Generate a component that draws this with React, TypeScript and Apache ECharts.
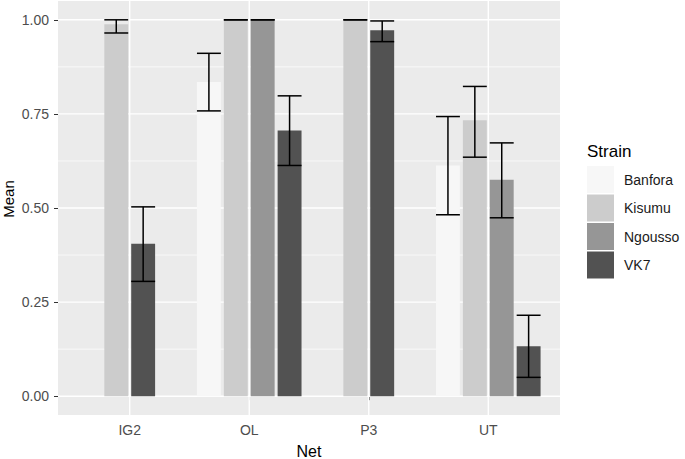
import React, { useEffect, useRef } from "react";
import * as echarts from "echarts";

const categories = ["IG2", "OL", "P3", "UT"];
const strains = ["Banfora", "Kisumu", "Ngousso", "VK7"];
const strainColors = ["#F7F7F7", "#CCCCCC", "#969696", "#525252"];

const banforaMean = [0, 0.835, 0, 0.613];
const banforaLow = [null, 0.758, null, 0.482];
const banforaHigh = [null, 0.911, null, 0.743];

const kisumuMean = [0.988, 1.0, 1.0, 0.733];
const kisumuLow = [0.965, 1.0, 1.0, 0.635];
const kisumuHigh = [1.0, 1.0, 1.0, 0.823];

const ngoussoMean = [null, 1.0, null, 0.575];
const ngoussoLow = [null, 1.0, null, 0.474];
const ngoussoHigh = [null, 1.0, null, 0.673];

const vk7Mean = [0.405, 0.706, 0.972, 0.133];
const vk7Low = [0.305, 0.613, 0.942, 0.05];
const vk7High = [0.503, 0.798, 0.997, 0.215];

const means = [banforaMean, kisumuMean, ngoussoMean, vk7Mean];
const lows = [banforaLow, kisumuLow, ngoussoLow, vk7Low];
const highs = [banforaHigh, kisumuHigh, ngoussoHigh, vk7High];

const yMajor = [0, 0.25, 0.5, 0.75, 1.0];
const yMinor = [0.125, 0.375, 0.625, 0.875];
const xMajor = [1, 2, 3, 4];

const FONT = "'Liberation Sans', Arial, sans-serif";

export default function App() {
  const ref = useRef<HTMLDivElement>(null);

  useEffect(() => {
    if (!ref.current) return;
    const chart = echarts.init(ref.current, undefined, { renderer: "svg" });

    // slot index of each strain within each category (ggplot dodge among present groups)
    const slotOf: number[][] = strains.map(() => categories.map(() => -1));
    categories.forEach((_, ci) => {
      let k = 0;
      strains.forEach((_, si) => {
        if (means[si][ci] !== null) {
          slotOf[si][ci] = k;
          k++;
        }
      });
    });

    const gridData: any[] = [];
    yMajor.forEach((v) => gridData.push([0, v, 1]));
    yMinor.forEach((v) => gridData.push([0, v, 0]));
    xMajor.forEach((v) => gridData.push([1, v, 1]));

    const gridSeries: any = {
      type: "custom",
      name: "grid",
      silent: true,
      z: 1,
      data: gridData,
      renderItem: (params: any, api: any) => {
        const cs = params.coordSys;
        const kind = api.value(0);
        const v = api.value(1);
        const major = api.value(2) === 1;
        const lw = major ? 1.4 : 0.7;
        if (kind === 0) {
          const y = api.coord([1, v])[1];
          return {
            type: "line",
            shape: { x1: cs.x, y1: y, x2: cs.x + cs.width, y2: y },
            style: { stroke: "#FFFFFF", lineWidth: lw },
          };
        }
        const x = api.coord([v, 0])[0];
        return {
          type: "line",
          shape: { x1: x, y1: cs.y, x2: x, y2: cs.y + cs.height },
          style: { stroke: "#FFFFFF", lineWidth: lw },
        };
      },
    };

    const barSeries = strains.map((name, si) => {
      const data: any[] = [];
      categories.forEach((_, ci) => {
        const m = means[si][ci];
        if (m === null) return;
        const lo = lows[si][ci];
        const hi = highs[si][ci];
        data.push([ci + 1, m, lo === null ? NaN : lo, hi === null ? NaN : hi, slotOf[si][ci]]);
      });
      return {
        type: "custom",
        name,
        z: 2,
        itemStyle: { color: strainColors[si] },
        encode: { x: 0, y: 1 },
        data,
        renderItem: (params: any, api: any) => {
          const x = api.value(0);
          const m = api.value(1);
          const lo = api.value(2);
          const hi = api.value(3);
          const slot = api.value(4);
          const unit = api.size([1, 0])[0];
          const center = api.coord([x, 0])[0];
          const cx = center + unit * 0.9 * ((slot + 0.5) / 4 - 0.5);
          const bw = (unit * 0.8) / 4;
          const y0 = api.coord([x, 0])[1];
          const y1 = api.coord([x, m])[1];
          const children: any[] = [
            {
              type: "rect",
              shape: { x: cx - bw / 2, y: y1, width: bw, height: y0 - y1 },
              style: { fill: strainColors[si] },
            },
          ];
          if (!isNaN(lo) && !isNaN(hi)) {
            const yl = api.coord([x, lo])[1];
            const yh = api.coord([x, hi])[1];
            const es = { stroke: "#000000", lineWidth: 1.5 };
            children.push(
              { type: "line", shape: { x1: cx, y1: yl, x2: cx, y2: yh }, style: es },
              { type: "line", shape: { x1: cx - bw / 2, y1: yl, x2: cx + bw / 2, y2: yl }, style: es },
              { type: "line", shape: { x1: cx - bw / 2, y1: yh, x2: cx + bw / 2, y2: yh }, style: es }
            );
          }
          return { type: "group", children };
        },
      };
    });

    chart.setOption({
      animation: false,
      grid: {
        left: 58,
        right: 125,
        top: 1,
        bottom: 44,
        show: true,
        backgroundColor: "#EBEBEB",
        borderWidth: 0,
        containLabel: false,
      },
      xAxis: {
        type: "value",
        min: 0.4,
        max: 4.6,
        axisLine: { show: false },
        splitLine: { show: false },
        axisTick: { show: true, customValues: xMajor, length: 4, lineStyle: { color: "#333333", width: 1 } },
        axisLabel: {
          customValues: xMajor,
          formatter: (v: number) => categories[Math.round(v) - 1] ?? "",
          color: "#4D4D4D",
          fontSize: 14,
          fontFamily: FONT,
          margin: 8,
        },
      },
      yAxis: {
        type: "value",
        min: -0.05,
        max: 1.05,
        axisLine: { show: false },
        splitLine: { show: false },
        axisTick: { show: true, customValues: yMajor, length: 4, lineStyle: { color: "#333333", width: 1 } },
        axisLabel: {
          customValues: yMajor,
          formatter: (v: number) => v.toFixed(2),
          color: "#4D4D4D",
          fontSize: 14,
          fontFamily: FONT,
          margin: 9,
        },
      },
      legend: {
        data: strains,
        orient: "vertical",
        left: 587,
        top: 166,
        padding: 0,
        itemWidth: 27,
        itemHeight: 27,
        itemGap: 1.5,
        icon: "rect",
        selectedMode: false,
        textStyle: { color: "#1A1A1A", fontSize: 14, fontFamily: FONT, padding: [0, 0, 0, 5] },
      },
      graphic: [
        {
          type: "text",
          x: 587,
          y: 151,
          style: { text: "Strain", fontSize: 17, fontFamily: FONT, fill: "#000000", align: "left", verticalAlign: "middle" },
        },
        {
          type: "text",
          x: 309,
          y: 451,
          style: { text: "Net", fontSize: 16, fontFamily: FONT, fill: "#000000", align: "center", verticalAlign: "middle" },
        },
        {
          type: "text",
          x: 8,
          y: 199,
          rotation: Math.PI / 2,
          style: { text: "Mean", fontSize: 15, fontFamily: FONT, fill: "#000000", align: "center", verticalAlign: "middle" },
        },
      ],
      series: [gridSeries, ...barSeries],
    });

    return () => chart.dispose();
  }, []);

  return (
    <div
      ref={ref}
      style={{ position: "absolute", left: 0, top: 0, width: 685, height: 459, background: "#FFFFFF" }}
    />
  );
}
